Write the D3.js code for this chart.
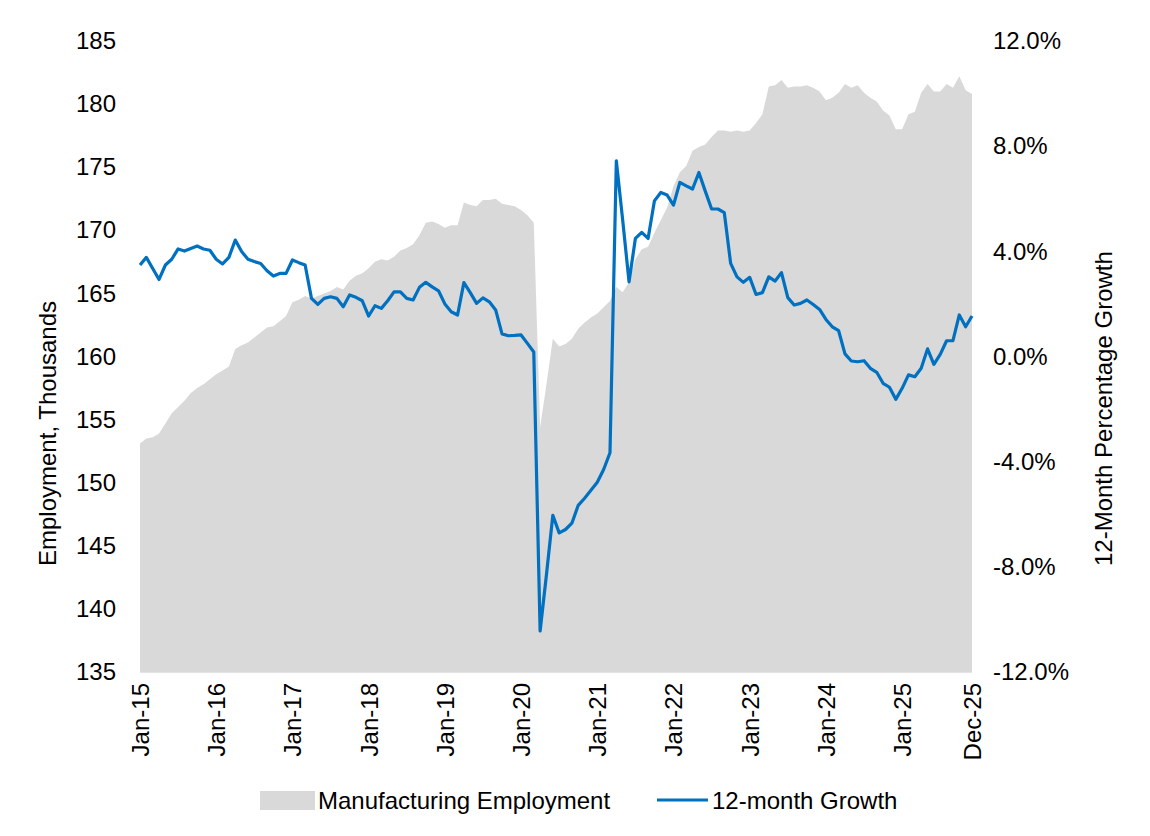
<!DOCTYPE html>
<html>
<head>
<meta charset="utf-8">
<script src="https://cdn.jsdelivr.net/npm/d3@7/dist/d3.min.js"></script>
<style>
  html, body { margin: 0; padding: 0; background: #fff; }
  text { font-family: "Liberation Sans", Arial, sans-serif; fill: #000; }
</style>
</head>
<body>
<svg id="chart" width="1150" height="836"></svg>
<script>
// ---- Data ----
const startYear = 2015;
const employment = [
  153.1,153.5,153.6,153.9,154.7,155.5,156.0,156.5,157.1,157.5,157.8,158.2,
  158.6,158.9,159.2,160.6,160.9,161.1,161.5,161.9,162.3,162.4,162.8,163.2,
  164.3,164.5,164.8,164.6,164.8,165.0,165.2,165.5,165.3,166.0,166.4,166.6,
  167.0,167.5,167.7,167.6,167.9,168.4,168.6,168.9,169.6,170.6,170.7,170.5,
  170.2,170.4,170.4,172.2,172.0,171.9,172.4,172.4,172.5,172.1,172.0,171.9,
  171.6,171.2,170.6,154.4,157.8,161.4,160.8,161.0,161.4,162.2,162.7,163.1,
  163.4,163.9,164.4,165.5,165.1,165.9,167.7,168.5,168.7,169.8,170.8,171.8,
  173.5,174.6,175.1,176.3,176.6,176.8,177.4,177.9,177.9,177.8,177.9,177.8,
  177.9,178.5,179.2,181.4,181.5,181.9,181.3,181.4,181.4,181.5,181.3,181.0,
  180.3,180.5,180.9,181.6,181.3,181.5,180.9,180.5,180.2,179.5,179.1,178.0,
  178.0,179.2,179.4,180.9,181.6,181.0,181.0,181.6,181.3,182.2,181.1,180.8
];
const growth = [
  3.48,3.77,3.35,2.93,3.48,3.70,4.09,4.01,4.11,4.20,4.09,4.04,
  3.70,3.52,3.77,4.43,3.99,3.70,3.61,3.54,3.26,3.06,3.16,3.16,
  3.67,3.57,3.48,2.21,1.98,2.21,2.27,2.21,1.89,2.34,2.25,2.12,
  1.54,1.93,1.83,2.12,2.46,2.46,2.21,2.15,2.63,2.82,2.65,2.50,
  2.00,1.70,1.58,2.81,2.43,2.02,2.23,2.08,1.77,0.86,0.79,0.80,
  0.82,0.50,0.17,-10.44,-8.29,-6.04,-6.71,-6.58,-6.34,-5.66,-5.39,-5.09,
  -4.78,-4.30,-3.66,7.44,5.19,2.84,4.49,4.72,4.49,5.92,6.24,6.14,
  5.76,6.62,6.49,6.37,7.00,6.29,5.61,5.61,5.47,3.54,3.03,2.82,
  3.01,2.36,2.43,3.03,2.87,3.19,2.24,1.96,2.02,2.15,1.98,1.79,
  1.41,1.13,0.98,0.10,-0.17,-0.20,-0.16,-0.45,-0.60,-1.02,-1.17,-1.63,
  -1.21,-0.70,-0.77,-0.45,0.29,-0.30,0.08,0.60,0.60,1.58,1.13,1.54
];
const xTickIndex = [0,12,24,36,48,60,72,84,96,108,120,131];
const xTickLabels = ["Jan-15","Jan-16","Jan-17","Jan-18","Jan-19","Jan-20","Jan-21","Jan-22","Jan-23","Jan-24","Jan-25","Dec-25"];
const leftTicks = [135,140,145,150,155,160,165,170,175,180,185];
const rightTicks = [-12,-8,-4,0,4,8,12];
const seriesNames = ["Manufacturing Employment","12-month Growth"];

// ---- Layout ----
const svg = d3.select("#chart");
const plot = { left: 140, right: 972, top: 41, bottom: 672 };
const FS = 24;
const areaColor = "#d9d9d9";
const lineColor = "#0070c0";

const x = d3.scaleLinear().domain([0, employment.length - 1]).range([plot.left, plot.right]);
const yL = d3.scaleLinear().domain([135, 185]).range([plot.bottom, plot.top]);
const yR = d3.scaleLinear().domain([-12, 12]).range([plot.bottom, plot.top]);

// Area
const area = d3.area()
  .x((d, i) => x(i))
  .y0(yL(135))
  .y1(d => yL(d));
svg.append("path").datum(employment).attr("d", area).attr("fill", areaColor);

// Bottom axis line
svg.append("line")
  .attr("x1", plot.left).attr("x2", plot.right)
  .attr("y1", plot.bottom + 0.5).attr("y2", plot.bottom + 0.5)
  .attr("stroke", "#e4e4e4").attr("stroke-width", 1);

// Line
const line = d3.line().x((d, i) => x(i)).y(d => yR(d));
svg.append("path").datum(growth).attr("d", line)
  .attr("fill", "none").attr("stroke", lineColor).attr("stroke-width", 3.2)
  .attr("stroke-linejoin", "round");

// Left axis
const gL = svg.append("g").attr("transform", `translate(${plot.left},0)`)
  .call(d3.axisLeft(yL).tickValues(leftTicks).tickSize(0).tickPadding(24).tickFormat(d3.format("d")));
gL.select(".domain").remove();
gL.selectAll("text").style("font-size", FS + "px").attr("fill", "#000")
  .style("font-family", '"Liberation Sans", Arial, sans-serif');

// Right axis
const gR = svg.append("g").attr("transform", `translate(${plot.right},0)`)
  .call(d3.axisRight(yR).tickValues(rightTicks).tickSize(0).tickPadding(21).tickFormat(d => d.toFixed(1) + "%"));
gR.select(".domain").remove();
gR.selectAll("text").style("font-size", FS + "px").attr("fill", "#000")
  .style("font-family", '"Liberation Sans", Arial, sans-serif');

// Bottom axis labels
const gB = svg.append("g").attr("transform", `translate(0,${plot.bottom})`)
  .call(d3.axisBottom(x).tickValues(xTickIndex).tickSize(0).tickFormat((d, i) => xTickLabels[i]));
gB.select(".domain").remove();
gB.selectAll("text")
  .style("font-size", FS + "px").attr("fill", "#000")
  .style("font-family", '"Liberation Sans", Arial, sans-serif')
  .attr("text-anchor", "end")
  .attr("transform", "rotate(-90)")
  .attr("x", -11).attr("y", 0).attr("dy", "0.35em");

// Axis titles
svg.append("text")
  .attr("transform", "translate(56,566) rotate(-90)")
  .attr("text-anchor", "start")
  .style("font-size", FS + "px")
  .text("Employment, Thousands");
svg.append("text")
  .attr("transform", "translate(1112,566) rotate(-90)")
  .attr("text-anchor", "start")
  .style("font-size", FS + "px")
  .text("12-Month Percentage Growth");

// Legend
const lg = svg.append("g");
lg.append("rect").attr("x", 260).attr("y", 791).attr("width", 55).attr("height", 19).attr("fill", areaColor);
lg.append("text").attr("x", 318).attr("y", 801).attr("dy", "0.35em").style("font-size", FS + "px").text(seriesNames[0]);
lg.append("line").attr("x1", 657).attr("x2", 708).attr("y1", 800).attr("y2", 800)
  .attr("stroke", lineColor).attr("stroke-width", 3.2);
lg.append("text").attr("x", 712).attr("y", 801).attr("dy", "0.35em").style("font-size", FS + "px").text(seriesNames[1]);
</script>
</body>
</html>
